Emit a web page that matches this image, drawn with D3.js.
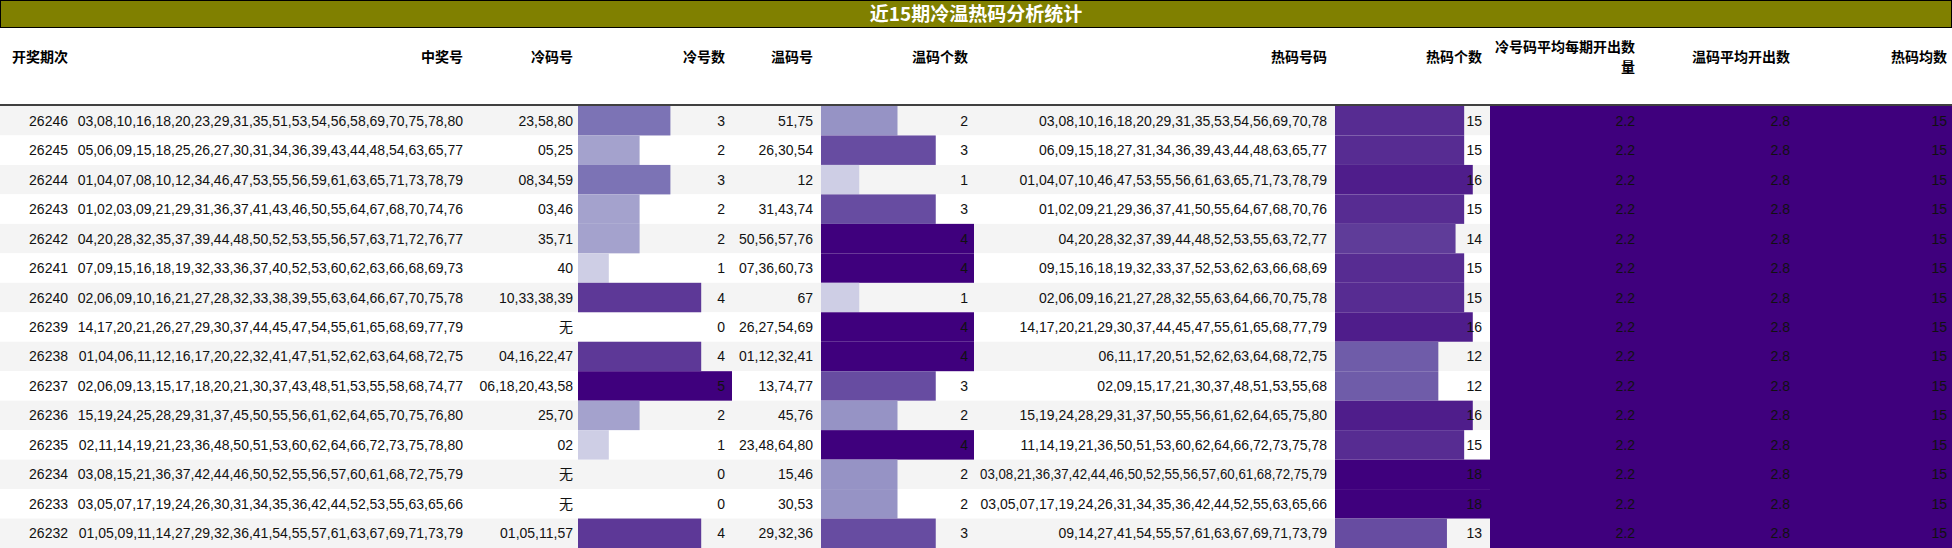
<!DOCTYPE html>
<html>
<head>
<meta charset="utf-8">
<script src="https://cdn.jsdelivr.net/npm/d3@7"></script>
<style>
  body { margin: 0; background: #fff; }
  text { font-family: "Liberation Sans", "Noto Sans CJK SC", sans-serif; }
</style>
</head>
<body>
<script>
// data
var periods = ["26246","26245","26244","26243","26242","26241","26240","26239","26238","26237","26236","26235","26234","26233","26232"];
var winning = [
  "03,08,10,16,18,20,23,29,31,35,51,53,54,56,58,69,70,75,78,80",
  "05,06,09,15,18,25,26,27,30,31,34,36,39,43,44,48,54,63,65,77",
  "01,04,07,08,10,12,34,46,47,53,55,56,59,61,63,65,71,73,78,79",
  "01,02,03,09,21,29,31,36,37,41,43,46,50,55,64,67,68,70,74,76",
  "04,20,28,32,35,37,39,44,48,50,52,53,55,56,57,63,71,72,76,77",
  "07,09,15,16,18,19,32,33,36,37,40,52,53,60,62,63,66,68,69,73",
  "02,06,09,10,16,21,27,28,32,33,38,39,55,63,64,66,67,70,75,78",
  "14,17,20,21,26,27,29,30,37,44,45,47,54,55,61,65,68,69,77,79",
  "01,04,06,11,12,16,17,20,22,32,41,47,51,52,62,63,64,68,72,75",
  "02,06,09,13,15,17,18,20,21,30,37,43,48,51,53,55,58,68,74,77",
  "15,19,24,25,28,29,31,37,45,50,55,56,61,62,64,65,70,75,76,80",
  "02,11,14,19,21,23,36,48,50,51,53,60,62,64,66,72,73,75,78,80",
  "03,08,15,21,36,37,42,44,46,50,52,55,56,57,60,61,68,72,75,79",
  "03,05,07,17,19,24,26,30,31,34,35,36,42,44,52,53,55,63,65,66",
  "01,05,09,11,14,27,29,32,36,41,54,55,57,61,63,67,69,71,73,79"
];
var coldNums = ["23,58,80","05,25","08,34,59","03,46","35,71","40","10,33,38,39","无","04,16,22,47","06,18,20,43,58","25,70","02","无","无","01,05,11,57"];
var coldCount = [3,2,3,2,2,1,4,0,4,5,2,1,0,0,4];
var warmNums = ["51,75","26,30,54","12","31,43,74","50,56,57,76","07,36,60,73","67","26,27,54,69","01,12,32,41","13,74,77","45,76","23,48,64,80","15,46","30,53","29,32,36"];
var warmCount = [2,3,1,3,4,4,1,4,4,3,2,4,2,2,3];
var hotNums = [
  "03,08,10,16,18,20,29,31,35,53,54,56,69,70,78",
  "06,09,15,18,27,31,34,36,39,43,44,48,63,65,77",
  "01,04,07,10,46,47,53,55,56,61,63,65,71,73,78,79",
  "01,02,09,21,29,36,37,41,50,55,64,67,68,70,76",
  "04,20,28,32,37,39,44,48,52,53,55,63,72,77",
  "09,15,16,18,19,32,33,37,52,53,62,63,66,68,69",
  "02,06,09,16,21,27,28,32,55,63,64,66,70,75,78",
  "14,17,20,21,29,30,37,44,45,47,55,61,65,68,77,79",
  "06,11,17,20,51,52,62,63,64,68,72,75",
  "02,09,15,17,21,30,37,48,51,53,55,68",
  "15,19,24,28,29,31,37,50,55,56,61,62,64,65,75,80",
  "11,14,19,21,36,50,51,53,60,62,64,66,72,73,75,78",
  "03,08,21,36,37,42,44,46,50,52,55,56,57,60,61,68,72,75,79",
  "03,05,07,17,19,24,26,31,34,35,36,42,44,52,55,63,65,66",
  "09,14,27,41,54,55,57,61,63,67,69,71,73,79"
];
var hotCount = [15,15,16,15,14,15,15,16,12,12,16,15,18,18,13];
var avgCold = 2.2, avgWarm = 2.8, avgHot = 15;
var headers = ["开奖期次","中奖号","冷码号","冷号数","温码号","温码个数","热码号码","热码个数","冷号码平均每期开出数量","温码平均开出数","热码均数"];

var W = 1952, H = 548;
var titleH = 27, headBottom = 106;

var svg = d3.select("body").append("svg").attr("width", W).attr("height", H);

// title bar
svg.append("rect").attr("x", 0.5).attr("y", 0.5).attr("width", W - 1).attr("height", titleH)
  .attr("fill", "#808000").attr("stroke", "#000");
svg.append("text").attr("x", W / 2).attr("y", titleH / 2 + 7).attr("text-anchor", "middle")
  .attr("fill", "#fff").attr("font-weight", "bold").attr("font-size", 19)
  .style("font-family", "'Noto Sans CJK SC', sans-serif").text("近15期冷温热码分析统计");

// column boundaries: left edge, right text edge
var cols = [
  {l: 0, r: 68}, {l: 74, r: 463}, {l: 465, r: 573}, {l: 578, r: 725},
  {l: 735, r: 813}, {l: 821, r: 968}, {l: 980, r: 1327}, {l: 1335, r: 1482},
  {l: 1490, r: 1635}, {l: 1640, r: 1790}, {l: 1795, r: 1947}
];

var y = d3.scaleBand().domain(periods).range([headBottom, H]);

// header
headers.forEach(function (h, i) {
  var t = svg.append("text").attr("x", cols[i].r).attr("text-anchor", "end")
    .attr("font-weight", "bold").attr("font-size", 14)
    .style("font-family", "'Noto Sans CJK SC', sans-serif");
  if (i === 8) {
    t.append("tspan").attr("x", cols[i].r).attr("y", 52).text("冷号码平均每期开出数");
    t.append("tspan").attr("x", cols[i].r).attr("y", 72).text("量");
  } else {
    t.attr("y", 62).text(h);
  }
});
svg.append("line").attr("x1", 0).attr("x2", W).attr("y1", headBottom - 1).attr("y2", headBottom - 1)
  .attr("stroke", "#000").attr("stroke-width", 1.5);

// row stripes
svg.selectAll(".stripe").data(periods).enter().append("rect")
  .attr("x", 0).attr("width", W).attr("y", d => y(d)).attr("height", y.bandwidth())
  .attr("fill", (d, i) => i % 2 === 0 ? "#f4f4f4" : "#fff");

// bar scales
var coldX = d3.scaleLinear().domain([0, 5]).range([0, 154]);
var warmX = d3.scaleLinear().domain([0, 4]).range([0, 153]);
var hotX = d3.scaleLinear().domain([0, 18]).range([0, 155]);
var coldC = v => d3.interpolatePurples(0.3 + 0.7 * (v - 1) / 4);
var warmC = v => d3.interpolatePurples(0.3 + 0.7 * (v - 1) / 3);
var hotC = v => d3.interpolatePurples(0.72 + 0.28 * (v - 12) / 6);

function bars(vals, col, xs, cs) {
  svg.append("g").selectAll("rect").data(vals).enter().append("rect")
    .attr("x", cols[col].l).attr("y", (d, i) => y(periods[i]))
    .attr("height", y.bandwidth()).attr("width", d => xs(d))
    .attr("fill", d => d > 0 ? cs(d) : "none");
}
bars(coldCount, 3, coldX, coldC);
bars(warmCount, 5, warmX, warmC);
bars(hotCount, 7, hotX, hotC);

// average block
svg.append("rect").attr("x", cols[8].l).attr("y", headBottom)
  .attr("width", W - cols[8].l).attr("height", H - headBottom).attr("fill", "#3f007d");

var columns = [periods, winning, coldNums, coldCount, warmNums, warmCount, hotNums, hotCount,
  periods.map(() => avgCold.toFixed(1)), periods.map(() => avgWarm.toFixed(1)), periods.map(() => avgHot)];

columns.forEach(function (vals, c) {
  var maxW = cols[c].r - cols[c].l;
  svg.append("g").selectAll("text").data(vals).enter().append("text")
    .attr("x", cols[c].r).attr("y", (d, i) => y(periods[i]) + y.bandwidth() / 2 + 5)
    .attr("text-anchor", "end").attr("font-size", 14).attr("fill", "#111")
    .style("font-family", d => d === "无" ? "'Noto Sans CJK SC', sans-serif" : null)
    .text(d => d)
    .each(function () {
      if (this.getComputedTextLength() > maxW) {
        d3.select(this).attr("textLength", maxW).attr("lengthAdjust", "spacingAndGlyphs");
      }
    });
});
</script>
</body>
</html>
